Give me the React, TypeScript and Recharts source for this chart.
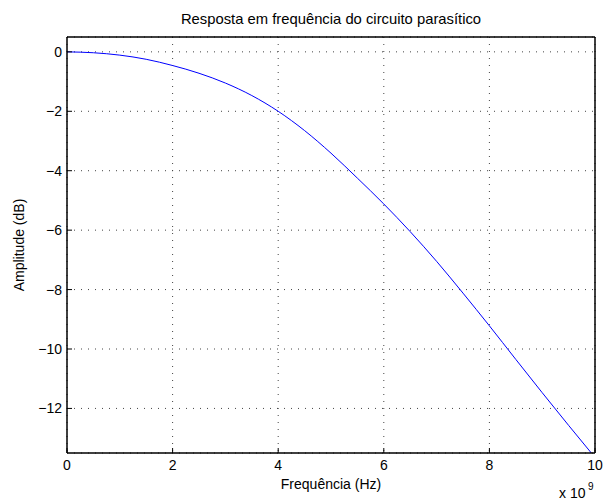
import React from 'react'
import {
  LineChart,
  Line,
  XAxis,
  YAxis,
  CartesianGrid,
} from 'recharts'

// frequency in units of 1e9 Hz
const freqGHz = [0, 0.5, 1, 1.5, 2, 2.5, 3, 3.5, 4, 4.5, 5, 5.5, 6, 6.5, 7, 7.5, 8, 8.5, 9, 9.5, 10]
const amplitudeDb = [
  0, -0.03, -0.11, -0.25, -0.46, -0.72, -1.05, -1.47, -2.0, -2.65, -3.41,
  -4.25, -5.12, -6.05, -7.05, -8.12, -9.22, -10.35, -11.47, -12.57, -13.65,
]
const xTicks = [0, 2, 4, 6, 8, 10]
const yTicks = [-12, -10, -8, -6, -4, -2, 0]

const data = freqGHz.map((f, i) => ({ f, db: amplitudeDb[i] }))

const FONT = '"Liberation Sans", Arial, Helvetica, sans-serif'
const W = 604
const H = 501
const plot = { left: 67, top: 37, right: 595, bottom: 453 }

const fmt = (v: number) => String(v).replace('-', '\u2212')

export default function App() {
  const cx = (plot.left + plot.right) / 2
  const cy = (plot.top + plot.bottom) / 2
  // each axis takes 1px, so margins are one px short of the plot box
  return (
    <div style={{ position: 'absolute', left: 0, top: 0, width: W, height: H, background: '#fff' }}>
      <LineChart
        width={W}
        height={H}
        data={data}
        margin={{
          top: plot.top - 1,
          right: W - plot.right - 1,
          bottom: H - plot.bottom - 1,
          left: plot.left - 1,
        }}
      >
        <CartesianGrid stroke="#444" strokeDasharray="1 6" />
        <XAxis
          dataKey="f"
          type="number"
          domain={[0, 10]}
          ticks={xTicks}
          height={1}
          tickSize={-5}
          tickMargin={12}
          tickFormatter={fmt}
          tick={{ fill: '#000', fontSize: 14, fontFamily: FONT }}
          axisLine={{ stroke: '#000', strokeWidth: 1.5 }}
          tickLine={{ stroke: '#000' }}
        />
        <XAxis
          xAxisId="top"
          orientation="top"
          type="number"
          domain={[0, 10]}
          ticks={xTicks}
          height={1}
          tickSize={-5}
          tick={false}
          axisLine={{ stroke: '#000', strokeWidth: 1.5 }}
          tickLine={{ stroke: '#000' }}
        />
        <YAxis
          type="number"
          domain={[-13.5, 0.5]}
          ticks={yTicks}
          allowDataOverflow
          width={1}
          tickSize={-5}
          tickMargin={10}
          tickFormatter={fmt}
          tick={{ fill: '#000', fontSize: 14, fontFamily: FONT }}
          axisLine={{ stroke: '#000', strokeWidth: 1.5 }}
          tickLine={{ stroke: '#000' }}
        />
        <YAxis
          yAxisId="right"
          orientation="right"
          type="number"
          domain={[-13.5, 0.5]}
          ticks={yTicks}
          width={1}
          tickSize={-5}
          tick={false}
          axisLine={{ stroke: '#000', strokeWidth: 1.5 }}
          tickLine={{ stroke: '#000' }}
        />
        <Line
          type="monotone"
          dataKey="db"
          stroke="#0000ff"
          strokeWidth={1}
          dot={false}
          isAnimationActive={false}
        />
      </LineChart>
      <svg
        width={W}
        height={H}
        style={{ position: 'absolute', left: 0, top: 0, pointerEvents: 'none' }}
        fontFamily={FONT}
        fontSize={14}
      >
        <text x={cx} y={24} textAnchor="middle" fontSize={14.8}>
          Resposta em frequência do circuito parasítico
        </text>
        <text x={cx} y={489} textAnchor="middle">Frequência (Hz)</text>
        <text x={23.5} y={cy} textAnchor="middle" transform={`rotate(-90 23.5 ${cy})`}>Amplitude (dB)</text>
        <text x={559} y={498}>x 10</text>
        <text x={588} y={490} fontSize={10}>9</text>
      </svg>
    </div>
  )
}
